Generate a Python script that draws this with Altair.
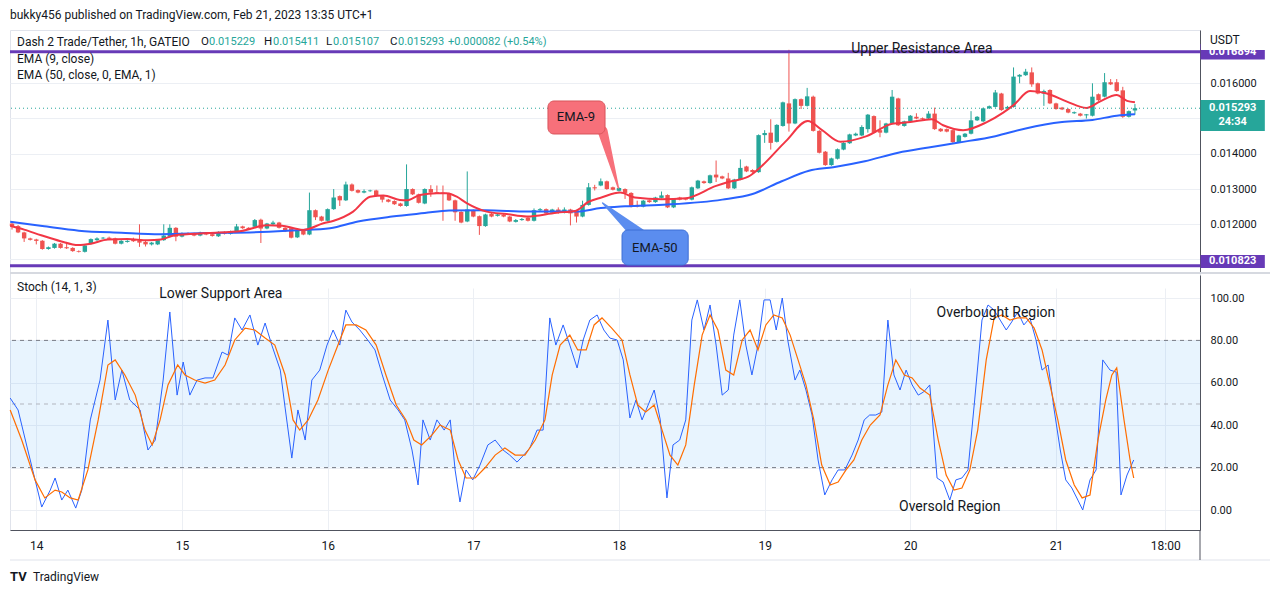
import altair as alt
import pandas as pd

# ---------------- data ----------------
hour = list(range(186))  # hourly candles, 0 = Feb 13 20:00

opens = [
    0.01202, 0.01195, 0.01177, 0.01160, 0.01157, 0.01153, 0.01130, 0.01133, 0.01145, 0.01135,
    0.01133, 0.01124, 0.01122, 0.01145, 0.01155, 0.01160, 0.01162, 0.01160, 0.01145, 0.01150,
    0.01156, 0.01154, 0.01150, 0.01143, 0.01143, 0.01155, 0.01165, 0.01190, 0.01165, 0.01175,
    0.01174, 0.01168, 0.01175, 0.01172, 0.01166, 0.01178, 0.01173, 0.01180, 0.01194, 0.01190,
    0.01193, 0.01213, 0.01188, 0.01200, 0.01205, 0.01190, 0.01189, 0.01163, 0.01182, 0.01171,
    0.01240, 0.01222, 0.01210, 0.01243, 0.01280, 0.01268, 0.01313, 0.01297, 0.01290, 0.01294,
    0.01296, 0.01280, 0.01270, 0.01266, 0.01259, 0.01252, 0.01300, 0.01285, 0.01259, 0.01300,
    0.01291, 0.01290, 0.01288, 0.01268, 0.01235, 0.01208, 0.01240, 0.01223, 0.01195, 0.01230,
    0.01224, 0.01227, 0.01222, 0.01207, 0.01212, 0.01219, 0.01210, 0.01240, 0.01243, 0.01233,
    0.01242, 0.01233, 0.01242, 0.01239, 0.01222, 0.01255, 0.01305, 0.01310, 0.01322, 0.01305,
    0.01295, 0.01300, 0.01289, 0.01255, 0.01250, 0.01268, 0.01263, 0.01275, 0.01283, 0.01248,
    0.01276, 0.01273, 0.01270, 0.01302, 0.01322, 0.01317, 0.01341, 0.01336, 0.01330, 0.01302,
    0.01327, 0.01364, 0.01354, 0.01348, 0.01453, 0.01460, 0.01434, 0.01479, 0.01543, 0.01486,
    0.01555, 0.01536, 0.01562, 0.01465, 0.01406, 0.01368, 0.01386, 0.01412, 0.01430, 0.01452,
    0.01452, 0.01470, 0.01507, 0.01467, 0.01460, 0.01486, 0.01557, 0.01479, 0.01492, 0.01505,
    0.01501, 0.01500, 0.01514, 0.01471, 0.01470, 0.01467, 0.01433, 0.01448, 0.01457, 0.01495,
    0.01492, 0.01529, 0.01533, 0.01571, 0.01528, 0.01533, 0.01619, 0.01623, 0.01631, 0.01600,
    0.01571, 0.01581, 0.01543, 0.01531, 0.01527, 0.01515, 0.01514, 0.01509, 0.01508, 0.01569,
    0.01562, 0.01603, 0.01603, 0.01580, 0.01505, 0.015229,
]
highs = [
    0.01208, 0.01198, 0.01179, 0.01162, 0.01159, 0.01155, 0.01137, 0.01147, 0.01147, 0.01150,
    0.01135, 0.01126, 0.01142, 0.01160, 0.01163, 0.01164, 0.01165, 0.01162, 0.01155, 0.01155,
    0.01162, 0.01200, 0.01153, 0.01150, 0.01157, 0.01200, 0.01200, 0.01192, 0.01177, 0.01177,
    0.01176, 0.01179, 0.01178, 0.01174, 0.01180, 0.01180, 0.01182, 0.01201, 0.01196, 0.01192,
    0.01215, 0.01216, 0.01204, 0.01210, 0.01207, 0.01192, 0.01192, 0.01184, 0.01184, 0.01290,
    0.01242, 0.01224, 0.01245, 0.01300, 0.01282, 0.01321, 0.01316, 0.01299, 0.01299, 0.01298,
    0.01298, 0.01282, 0.01272, 0.01268, 0.01261, 0.01370, 0.01302, 0.01287, 0.01302, 0.01311,
    0.01310, 0.01310, 0.01290, 0.01270, 0.01237, 0.01350, 0.01242, 0.01225, 0.01230, 0.01232,
    0.01230, 0.01229, 0.01224, 0.01215, 0.01218, 0.01221, 0.01245, 0.01246, 0.01245, 0.01244,
    0.01248, 0.01248, 0.01244, 0.01241, 0.01267, 0.01317, 0.01312, 0.01330, 0.01324, 0.01307,
    0.01305, 0.01302, 0.01291, 0.01267, 0.01269, 0.01270, 0.01278, 0.01293, 0.01285, 0.01274,
    0.01278, 0.01275, 0.01307, 0.01326, 0.01324, 0.01341, 0.01381, 0.01338, 0.01346, 0.01329,
    0.01384, 0.01366, 0.01356, 0.01455, 0.01467, 0.01498, 0.01484, 0.01548, 0.01695, 0.01557,
    0.01557, 0.01587, 0.01565, 0.01467, 0.01408, 0.01389, 0.01415, 0.01433, 0.01457, 0.01460,
    0.01481, 0.01513, 0.01509, 0.01495, 0.01488, 0.01581, 0.01559, 0.01494, 0.01510, 0.01515,
    0.01503, 0.01521, 0.01531, 0.01473, 0.01472, 0.01469, 0.01454, 0.01459, 0.01521, 0.01507,
    0.01531, 0.01537, 0.01581, 0.01573, 0.01536, 0.01645, 0.01626, 0.01641, 0.01645, 0.01602,
    0.01582, 0.01583, 0.01545, 0.01533, 0.01529, 0.01520, 0.01516, 0.01513, 0.01600, 0.01571,
    0.01629, 0.01612, 0.01612, 0.01590, 0.01523, 0.015411,
]
lows = [
    0.01185, 0.01175, 0.01150, 0.01154, 0.01143, 0.01128, 0.01128, 0.01131, 0.01131, 0.01130,
    0.01122, 0.01120, 0.01120, 0.01143, 0.01153, 0.01158, 0.01158, 0.01143, 0.01143, 0.01148,
    0.01150, 0.01136, 0.01137, 0.01140, 0.01141, 0.01153, 0.01163, 0.01152, 0.01163, 0.01170,
    0.01166, 0.01166, 0.01169, 0.01165, 0.01164, 0.01171, 0.01171, 0.01178, 0.01187, 0.01184,
    0.01191, 0.01147, 0.01186, 0.01198, 0.01188, 0.01178, 0.01160, 0.01161, 0.01169, 0.01169,
    0.01212, 0.01208, 0.01208, 0.01241, 0.01252, 0.01266, 0.01293, 0.01288, 0.01288, 0.01292,
    0.01278, 0.01262, 0.01262, 0.01255, 0.01250, 0.01250, 0.01283, 0.01259, 0.01257, 0.01278,
    0.01287, 0.01210, 0.01266, 0.01210, 0.01203, 0.01206, 0.01220, 0.01170, 0.01193, 0.01220,
    0.01222, 0.01220, 0.01206, 0.01205, 0.01210, 0.01208, 0.01208, 0.01238, 0.01229, 0.01231,
    0.01230, 0.01231, 0.01197, 0.01205, 0.01220, 0.01253, 0.01296, 0.01308, 0.01298, 0.01296,
    0.01293, 0.01272, 0.01248, 0.01248, 0.01248, 0.01261, 0.01261, 0.01273, 0.01246, 0.01246,
    0.01268, 0.01268, 0.01268, 0.01300, 0.01315, 0.01315, 0.01320, 0.01328, 0.01300, 0.01300,
    0.01325, 0.01348, 0.01346, 0.01346, 0.01431, 0.01412, 0.01432, 0.01477, 0.01463, 0.01484,
    0.01527, 0.01534, 0.01463, 0.01401, 0.01366, 0.01366, 0.01384, 0.01410, 0.01428, 0.01450,
    0.01450, 0.01460, 0.01458, 0.01447, 0.01458, 0.01484, 0.01479, 0.01477, 0.01490, 0.01498,
    0.01496, 0.01498, 0.01468, 0.01462, 0.01461, 0.01431, 0.01431, 0.01446, 0.01455, 0.01493,
    0.01490, 0.01527, 0.01531, 0.01522, 0.01526, 0.01531, 0.01600, 0.01621, 0.01590, 0.01569,
    0.01536, 0.01541, 0.01525, 0.01524, 0.01515, 0.01513, 0.01506, 0.01500, 0.01506, 0.01550,
    0.01560, 0.01595, 0.01576, 0.01502, 0.01503, 0.015107,
]
closes = [
    0.01195, 0.01177, 0.01160, 0.01156, 0.01153, 0.01130, 0.01135, 0.01145, 0.01133, 0.01132,
    0.01124, 0.01122, 0.01140, 0.01158, 0.01160, 0.01162, 0.01159, 0.01145, 0.01153, 0.01153,
    0.01152, 0.01148, 0.01143, 0.01148, 0.01155, 0.01168, 0.01190, 0.01165, 0.01175, 0.01172,
    0.01168, 0.01176, 0.01171, 0.01167, 0.01178, 0.01173, 0.01180, 0.01194, 0.01189, 0.01186,
    0.01212, 0.01188, 0.01202, 0.01205, 0.01190, 0.01180, 0.01162, 0.01182, 0.01171, 0.01240,
    0.01220, 0.01210, 0.01243, 0.01276, 0.01268, 0.01313, 0.01295, 0.01290, 0.01294, 0.01296,
    0.01280, 0.01270, 0.01264, 0.01257, 0.01252, 0.01300, 0.01285, 0.01261, 0.01300, 0.01290,
    0.01288, 0.01287, 0.01268, 0.01234, 0.01205, 0.01242, 0.01222, 0.01195, 0.01228, 0.01222,
    0.01228, 0.01222, 0.01208, 0.01212, 0.01215, 0.01210, 0.01240, 0.01243, 0.01231, 0.01242,
    0.01232, 0.01242, 0.01231, 0.01222, 0.01255, 0.01305, 0.01302, 0.01322, 0.01300, 0.01298,
    0.01303, 0.01289, 0.01250, 0.01250, 0.01267, 0.01263, 0.01276, 0.01282, 0.01248, 0.01272,
    0.01270, 0.01270, 0.01305, 0.01324, 0.01317, 0.01339, 0.01333, 0.01330, 0.01302, 0.01327,
    0.01360, 0.01350, 0.01348, 0.01453, 0.01459, 0.01431, 0.01482, 0.01546, 0.01486, 0.01555,
    0.01536, 0.01563, 0.01465, 0.01403, 0.01368, 0.01387, 0.01413, 0.01431, 0.01455, 0.01457,
    0.01476, 0.01511, 0.01460, 0.01460, 0.01486, 0.01562, 0.01481, 0.01492, 0.01508, 0.01500,
    0.01498, 0.01514, 0.01470, 0.01464, 0.01463, 0.01433, 0.01452, 0.01457, 0.01495, 0.01505,
    0.01529, 0.01535, 0.01574, 0.01524, 0.01533, 0.01619, 0.01624, 0.01633, 0.01597, 0.01571,
    0.01578, 0.01543, 0.01527, 0.01526, 0.01517, 0.01518, 0.01508, 0.01512, 0.01562, 0.01552,
    0.01603, 0.01597, 0.01578, 0.01505, 0.01521, 0.015293,
]

ema9_x = [-0.3, 2, 4.8, 8, 10.9, 13, 15.8, 19, 22.4, 24.5, 26.8, 32.3, 37.8, 42, 44.5,
          46.6, 48, 51.3, 53, 56.2, 59, 61.2, 63.9, 65, 67.2, 70, 71.6, 73.2, 74.9, 78.2,
          81.5, 84.8, 89.7, 92.8, 95, 97.1, 100.2, 102.6, 107, 111, 116, 118, 121.3, 123.5,
          127.5, 131.1, 133.4, 136.5, 140.8, 145, 148, 151.5, 153.4, 156.7, 160.6, 163.3,
          165, 167.7, 170.5, 173.8, 177, 179.2, 182, 183.7, 185]
ema9_v = [0.01196, 0.01185, 0.01169, 0.01152, 0.01141, 0.01145, 0.01157, 0.01158, 0.01155,
          0.01157, 0.01169, 0.01175, 0.01181, 0.01197, 0.01196, 0.01188, 0.01184, 0.01203,
          0.01210, 0.01236, 0.01278, 0.01282, 0.01269, 0.01268, 0.01283, 0.01288, 0.01288,
          0.01279, 0.01260, 0.01236, 0.01229, 0.01222, 0.01233, 0.01238, 0.01264, 0.01276,
          0.01290, 0.01276, 0.01271, 0.01274, 0.01309, 0.01320, 0.01335, 0.01365, 0.01436,
          0.01493, 0.01468, 0.01434, 0.01450, 0.01485, 0.01490, 0.01498, 0.01481, 0.01467,
          0.01490, 0.01517, 0.01538, 0.01578, 0.01571, 0.01548, 0.01530, 0.01548, 0.01567,
          0.01550, 0.01546]

ema50_x = [-0.3, 5, 11, 18, 24.4, 32, 41, 47, 52.4, 57, 62.6, 68, 72, 78, 85, 93, 97, 101,
           108, 117, 122, 126.8, 131.3, 135.3, 140.5, 146, 151, 156, 162, 167, 173, 178, 182, 185]
ema50_v = [0.01207, 0.01195, 0.01182, 0.01176, 0.01172, 0.01175, 0.01178, 0.01183, 0.01189,
           0.01208, 0.01222, 0.01232, 0.01239, 0.01240, 0.01236, 0.01236, 0.01246, 0.01251,
           0.01256, 0.01270, 0.01286, 0.01322, 0.01352, 0.01362, 0.01379, 0.01403, 0.01418,
           0.01432, 0.01450, 0.01472, 0.01490, 0.01496, 0.01508, 0.01512]

k_x = [-0.3, 1.0, 2.6, 4.9, 6.3, 7.1, 8.2, 9.2, 10.5, 11.5,
       12.9, 14.5, 15.8, 17.0, 18.1, 19.4, 21.1, 22.4, 23.6, 24.9,
       26.0, 27.2, 28.2, 29.3, 30.5, 31.8, 33.1, 34.6, 35.6, 36.7,
       37.9, 39.2, 40.5, 41.7, 42.8, 44.2, 45.0, 46.1, 47.1, 48.3,
       49.4, 50.7, 51.9, 52.9, 54.0, 55.0, 56.0, 57.3, 58.6, 59.8,
       61.0, 62.3, 63.6, 64.7, 65.9, 66.9, 67.7, 68.9, 70.0, 71.2,
       72.2, 73.0, 73.8, 74.8, 75.9, 77.1, 78.4, 79.6, 80.9, 82.0,
       83.2, 84.3, 85.3, 86.5, 87.5, 88.6, 89.6, 90.8, 91.9, 93.1,
       94.1, 95.2, 96.4, 97.5, 98.5, 99.7, 100.7, 101.8, 102.8, 103.8,
       104.8, 105.8, 106.8, 107.9, 108.9, 110.0, 111.0, 112.0, 112.9, 114.0,
       115.0, 116.0, 117.0, 118.0, 118.9, 119.9, 120.9, 121.9, 122.9, 123.9,
       124.9, 125.9, 126.9, 127.8, 129.0, 129.8, 130.8, 131.8, 132.8, 133.9,
       135.1, 136.1, 137.2, 138.4, 139.4, 140.4, 141.3, 142.3, 143.3, 144.3,
       145.3, 146.3, 147.3, 148.3, 149.3, 150.2, 151.2, 152.4, 153.4, 154.5,
       155.5, 156.5, 157.5, 158.6, 159.8, 160.8, 161.8, 162.8, 163.8, 164.7,
       165.7, 166.7, 167.7, 168.7, 169.7, 170.7, 171.7, 172.7, 173.6, 174.6,
       175.6, 176.4, 177.6, 178.6, 179.7, 180.9, 181.9, 182.7, 183.7, 184.8]
k_v = [52.8, 47.2, 28.3, 1.4, 9.4, 15.1, 4.7, 9.4, 0.9, 9.4,
       42.5, 61.3, 89.6, 51.9, 66.0, 51.9, 47.2, 28.3, 33.0, 61.3,
       93.4, 54.2, 69.8, 54.2, 61.3, 62.3, 62.3, 74.5, 73.1, 90.6,
       84.9, 92.0, 77.8, 88.2, 77.8, 66.0, 48.1, 24.5, 47.2, 33.0,
       61.3, 66.0, 77.8, 84.9, 77.8, 94.3, 88.7, 84.9, 80.2, 75.5,
       63.7, 51.9, 47.2, 42.5, 28.3, 11.8, 42.5, 33.0, 42.5, 37.7,
       42.5, 18.9, 3.8, 18.9, 14.2, 21.2, 30.7, 33.0, 28.3, 25.9,
       22.6, 25.9, 29.2, 37.7, 37.7, 90.6, 77.8, 87.3, 77.8, 67.0,
       80.2, 89.6, 92.0, 84.9, 81.1, 80.2, 70.8, 43.4, 51.9, 42.5,
       49.5, 56.6, 42.5, 5.7, 30.7, 33.0, 42.5, 89.6, 99.1, 84.9,
       96.7, 77.8, 54.2, 56.6, 82.5, 99.1, 77.8, 63.7, 77.8, 99.1,
       99.1, 84.9, 100.0, 80.2, 61.3, 66.0, 56.6, 44.8, 23.6, 7.1,
       14.2, 18.9, 18.9, 25.9, 33.0, 42.5, 44.8, 44.8, 46.2, 89.6,
       63.7, 56.6, 66.0, 59.0, 54.2, 55.7, 59.0, 15.1, 13.2, 4.7,
       14.2, 15.1, 18.9, 51.9, 89.6, 96.7, 94.3, 89.6, 84.9, 88.7,
       93.4, 87.3, 90.6, 80.2, 66.0, 68.4, 47.2, 28.3, 14.2, 10.4,
       4.7, 0.0, 14.2, 18.9, 70.8, 66.0, 65.1, 7.1, 16.5, 23.6]

d_x = [-0.3, 1.6, 3.8, 5.4, 7.1, 8.2, 9.6, 10.9, 12.5, 14.2,
       15.8, 17.0, 18.6, 20.3, 21.9, 23.1, 24.4, 25.7, 27.3, 28.5,
       30.1, 31.8, 33.4, 35.1, 36.7, 38.4, 40.0, 41.7, 43.3, 45.0,
       46.3, 47.4, 48.8, 50.4, 52.1, 53.7, 55.0, 56.7, 58.3, 60.0,
       61.6, 63.3, 64.9, 66.2, 67.5, 69.2, 70.5, 72.2, 73.5, 74.8,
       76.3, 77.9, 79.6, 81.2, 82.9, 84.5, 86.2, 87.8, 89.0, 90.3,
       91.9, 93.2, 94.6, 95.9, 97.2, 98.8, 100.5, 101.8, 103.1, 104.4,
       105.8, 107.1, 108.4, 109.7, 111.0, 112.4, 113.7, 115.0, 116.3, 117.6,
       118.9, 120.3, 121.6, 122.9, 124.2, 125.5, 126.9, 128.2, 129.5, 130.8,
       132.1, 133.4, 134.8, 136.1, 137.4, 138.7, 140.0, 141.4, 143.0, 144.3,
       145.6, 147.0, 148.3, 149.6, 151.2, 152.6, 153.9, 155.2, 156.5, 157.8,
       159.1, 160.5, 161.8, 163.1, 164.4, 165.7, 167.1, 168.4, 169.7, 171.0,
       172.3, 173.6, 175.0, 176.3, 177.6, 178.9, 180.2, 181.2, 182.0, 183.2,
       184.2, 184.8]
d_v = [47.2, 33.0, 14.2, 5.7, 9.4, 8.5, 5.7, 4.7, 18.9, 42.5,
       68.4, 70.8, 63.7, 54.2, 37.7, 30.7, 42.5, 59.0, 68.4, 63.7,
       61.3, 59.9, 61.3, 68.4, 80.2, 85.8, 84.9, 81.1, 77.8, 63.7,
       42.5, 37.7, 42.5, 51.9, 66.0, 77.8, 87.3, 87.3, 84.9, 77.8,
       63.7, 49.5, 42.5, 33.0, 30.7, 35.4, 40.1, 37.7, 23.6, 15.1,
       15.1, 19.8, 25.9, 29.2, 25.9, 25.9, 33.0, 42.5, 63.7, 77.8,
       82.5, 75.5, 75.5, 87.3, 90.6, 85.8, 80.2, 63.7, 49.5, 46.2,
       49.5, 37.7, 25.9, 21.2, 30.7, 59.0, 82.5, 92.0, 84.9, 66.0,
       63.7, 80.2, 84.9, 75.5, 87.3, 92.0, 90.6, 82.5, 70.8, 59.0,
       42.5, 21.2, 11.8, 13.2, 18.9, 23.6, 33.0, 40.1, 44.8, 59.0,
       70.8, 63.7, 62.3, 57.5, 54.2, 33.0, 16.5, 9.4, 10.4, 18.9,
       37.7, 70.8, 90.6, 92.0, 89.6, 90.6, 90.6, 85.8, 75.5, 59.0,
       42.5, 23.6, 11.8, 5.7, 7.1, 33.0, 51.9, 63.7, 67.0, 42.5,
       23.6, 15.1]

day_ticks = [4, 28, 52, 76, 100, 124, 148, 172, 190]
day_labels = ["14", "15", "16", "17", "18", "19", "20", "21", "18:00"]
price_ticks = [0.012, 0.013, 0.014, 0.016]      # labelled on the axis
price_hidden_grid = [0.011, 0.015]              # gridlines whose labels sit under the price tags
stoch_ticks = [0, 20, 40, 60, 80, 100]
stoch_levels = [80, 20]
stoch_mid = [50]

resistance = 0.016894
support = 0.010823
last_close = 0.015293

header_parts = ["Dash 2 Trade/Tether, 1h, GATEIO", "O", "0.015229", "H", "0.015411",
                "L", "0.015107", "C", "0.015293", "+0.000082 (+0.54%)"]

# ---------------- style ----------------
W, H = 1190, 500
FONT = "Roboto"
TEXT = "#131722"
TEAL = "#26a69a"
RED = "#ef5350"
PURPLE = "#673ab7"
EMA9_C = "#f23645"
EMA50_C = "#2962ff"
K_C = "#2962ff"
D_C = "#ff6d00"
GRID = "#eceff4"
AXIS_C = "#50535e"

label_expr = "''"
for v, l in reversed(list(zip(day_ticks, day_labels))):
    label_expr = f"datum.value == {v} ? '{l}' : ({label_expr})"

x_scale = alt.Scale(domain=[-0.33, 195.72], nice=False, zero=False, padding=0)
x_axis = alt.Axis(values=day_ticks, labelExpr=label_expr, grid=True, gridColor=GRID,
                  ticks=False, labelPadding=10, domainColor=AXIS_C, labelColor=TEXT,
                  labelFont=FONT, labelFontSize=12, title=None, labelFlush=False,
                  labelOverlap=False)

p_scale = alt.Scale(domain=[0.010647, 0.017512], range=[242, 0], nice=False, zero=False, padding=0)
p_axis = alt.Axis(orient="right", values=price_ticks, format=".6f", grid=True, gridColor=GRID,
                  ticks=False, labelPadding=10, domainColor=AXIS_C, labelColor=TEXT,
                  labelFont=FONT, labelFontSize=11, title=None, labelOverlap=False)

s_scale = alt.Scale(domain=[-9.43, 110.85], range=[500, 245], nice=False, zero=False, padding=0)
s_axis = alt.Axis(orient="right", values=stoch_ticks, format=".2f", grid=True, gridColor=GRID,
                  ticks=False, labelPadding=10, domainColor=AXIS_C, labelColor=TEXT,
                  labelFont=FONT, labelFontSize=11, title=None, labelOverlap=False)


def X(f):
    return alt.X(f"{f}:Q", scale=x_scale, axis=x_axis)


def PY(f):
    return alt.Y(f"{f}:Q", scale=p_scale, axis=p_axis)


def SY(f):
    return alt.Y(f"{f}:Q", scale=s_scale, axis=s_axis)


def df(**kw):
    return pd.DataFrame(kw)


# ---------------- price panel ----------------
cdf = df(hour=hour, open=opens, high=highs, low=lows, close=closes)
ccolor = alt.condition("datum.close >= datum.open", alt.value(TEAL), alt.value(RED))

hidden_grid = alt.Chart(df(v=price_hidden_grid)).mark_rule(color=GRID, strokeWidth=1).encode(y=PY("v"))

wicks = alt.Chart(cdf).mark_rule(strokeWidth=1).encode(
    x=X("hour"), y=PY("low"), y2="high", color=ccolor)
bodies = alt.Chart(cdf).mark_bar(size=4.4).encode(
    x=X("hour"), y=PY("open"), y2="close", color=ccolor)

ema50 = alt.Chart(df(hour=ema50_x, v=ema50_v)).mark_line(
    color=EMA50_C, strokeWidth=2, interpolate="monotone").encode(x=X("hour"), y=PY("v"))
ema9 = alt.Chart(df(hour=ema9_x, v=ema9_v)).mark_line(
    color=EMA9_C, strokeWidth=2, interpolate="monotone").encode(x=X("hour"), y=PY("v"))

levels = alt.Chart(df(v=[resistance, support])).mark_rule(
    color=PURPLE, strokeWidth=3).encode(y=PY("v"))
lastline = alt.Chart(df(v=[last_close])).mark_rule(
    color=TEAL, strokeWidth=1, strokeDash=[1, 3]).encode(y=PY("v"))

# callouts
tail9 = alt.Chart(df(hour=[97.3, 99.9], v=[0.014647, 0.013030], w=[10, 1.5])).mark_trail(
    color="#f7707a").encode(x=X("hour"), y=PY("v"), size=alt.Size("w:Q", scale=None, legend=None))
box9 = alt.Chart(df(a=[88.3], b=[97.7], c=[0.015498], d=[0.014562])).mark_rect(
    color="#f7707a", cornerRadius=6, stroke="#d9545b", strokeWidth=1).encode(
    x=X("a"), x2="b", y=PY("c"), y2="d")
txt9 = alt.Chart(df(hour=[92.9], v=[0.01503], t=["EMA-9"])).mark_text(
    font=FONT, fontSize=13, color=TEXT).encode(x=X("hour"), y=PY("v"), text="t:N")

tail50 = alt.Chart(df(hour=[97.3, 103.3], v=[0.012604, 0.011697], w=[1.5, 14])).mark_trail(
    color="#5b8def").encode(x=X("hour"), y=PY("v"), size=alt.Size("w:Q", scale=None, legend=None))
box50 = alt.Chart(df(a=[100.5], b=[111.4], c=[0.011838], d=[0.010845])).mark_rect(
    color="#5b8def", cornerRadius=6, stroke="#3d6fd6", strokeWidth=1).encode(
    x=X("a"), x2="b", y=PY("c"), y2="d")
txt50 = alt.Chart(df(hour=[105.9], v=[0.01134], t=["EMA-50"])).mark_text(
    font=FONT, fontSize=13, color=TEXT).encode(x=X("hour"), y=PY("v"), text="t:N")

upper_txt = alt.Chart(df(hour=[149.9], v=[resistance], t=["Upper Resistance Area"])).mark_text(
    font=FONT, fontSize=14, color=TEXT, dy=-3).encode(x=X("hour"), y=PY("v"), text="t:N")

# right-side price labels
plabels = alt.Chart(df(a=[195.8, 195.8, 195.8], b=[206.4, 206.4, 206.4],
                       c=[0.017115, 0.015526, 0.011128], d=[0.016675, 0.014644, 0.010759],
                       k=["r", "l", "s"])).mark_rect().encode(
    x=X("a"), x2="b", y=PY("c"), y2="d",
    color=alt.Color("k:N", scale=alt.Scale(domain=["r", "l", "s"], range=[PURPLE, TEAL, PURPLE]),
                    legend=None))
ptexts = alt.Chart(df(hour=[201.1, 201.1, 201.1, 201.1],
                      v=[resistance, 0.015290, 0.014893, 0.010945],
                      t=[f"{resistance:.6f}", f"{last_close:.6f}", "24:34", f"{support:.6f}"])).mark_text(
    font=FONT, fontSize=11, fontWeight="bold", color="white").encode(
    x=X("hour"), y=PY("v"), text="t:N")

price = alt.layer(hidden_grid, wicks, bodies, ema50, ema9, levels, lastline,
                  tail9, box9, txt9, tail50, box50, txt50, upper_txt, plabels, ptexts)

# ---------------- stochastic panel ----------------
band = alt.Chart(df(lo=[20], hi=[80])).mark_rect(color="#2196f3", opacity=0.1).encode(
    y=SY("lo"), y2="hi")
dash1 = alt.Chart(df(v=stoch_levels)).mark_rule(color="#787b86", strokeDash=[4, 4]).encode(y=SY("v"))
dash2 = alt.Chart(df(v=stoch_mid)).mark_rule(color="#b2b5be", strokeDash=[4, 4]).encode(y=SY("v"))
kline = alt.Chart(df(hour=k_x, v=k_v)).mark_line(color=K_C, strokeWidth=1).encode(
    x=X("hour"), y=SY("v"))
dline = alt.Chart(df(hour=d_x, v=d_v)).mark_line(color=D_C, strokeWidth=1.2).encode(
    x=X("hour"), y=SY("v"))
stxt = alt.Chart(df(hour=[34.4, 162.1, 154.5], v=[101.9, 92.9, 1.4],
                    t=["Lower Support Area", "Overbought Region", "Oversold Region"])).mark_text(
    font=FONT, fontSize=14, color=TEXT).encode(x=X("hour"), y=SY("v"), text="t:N")

stoch = alt.layer(band, dash1, dash2, kline, dline, stxt)


# ---------------- frame texts ----------------
def ptext(t, x, y, color=TEXT, size=12, weight="normal", align="left"):
    return alt.Chart(df(t=[t])).mark_text(
        align=align, baseline="middle", font=FONT, fontSize=size, fontWeight=weight,
        color=color).encode(x=alt.value(x), y=alt.value(y), text="t:N")


def prule(x, x2, y, y2, color, width=1):
    return alt.Chart(df(t=[0])).mark_rule(color=color, strokeWidth=width).encode(
        x=alt.value(x), x2=alt.value(x2), y=alt.value(y), y2=alt.value(y2))


hx = [7, 191, 199, 254, 263, 316, 323, 380, 388, 438]
hc = [TEXT, TEXT, TEAL, TEXT, TEAL, TEXT, TEAL, TEXT, TEAL, TEAL]
hs = [12, 11.5, 11, 11.5, 11, 11.5, 11, 11.5, 11, 11]
frame = [
    ptext("bukky456 published on TradingView.com, Feb 21, 2023 13:35 UTC+1", 0, -15),
    ptext("EMA (9, close)", 7, 29),
    ptext("EMA (50, close, 0, EMA, 1)", 7, 45),
    ptext("Stoch (14, 1, 3)", 7, 257),
    alt.Chart(df(t=[0])).mark_rect(color="white").encode(
        x=alt.value(1191), x2=alt.value(1262), y=alt.value(0), y2=alt.value(20)),
    ptext("USDT", 1200, 10),
    prule(0, 1262, 243, 243, "#d6d9e0", 2),
    prule(0, 1262, 530, 530, "#e0e3eb"),
    prule(1262, 1262, 0, 530, "#e0e3eb"),
    prule(1190, 1190, 500, 530, AXIS_C),
    ptext("TV", 0, 547, size=13, weight="bold"),
    ptext("TradingView", 23, 547),
]
for t, x, c, s in zip(header_parts, hx, hc, hs):
    frame.append(ptext(t, x, 12, color=c, size=s))

pix = alt.layer(*frame)

chart = alt.layer(price, stoch, pix).resolve_scale(y="independent").properties(
    width=W, height=H,
    autosize=alt.AutoSizeParams(type="none"),
    padding={"left": 2, "top": 22, "right": 70, "bottom": 57},
).configure_view(stroke="#e0e3eb")

chart.save("out.html", embed_options={"renderer": "svg", "actions": False})
